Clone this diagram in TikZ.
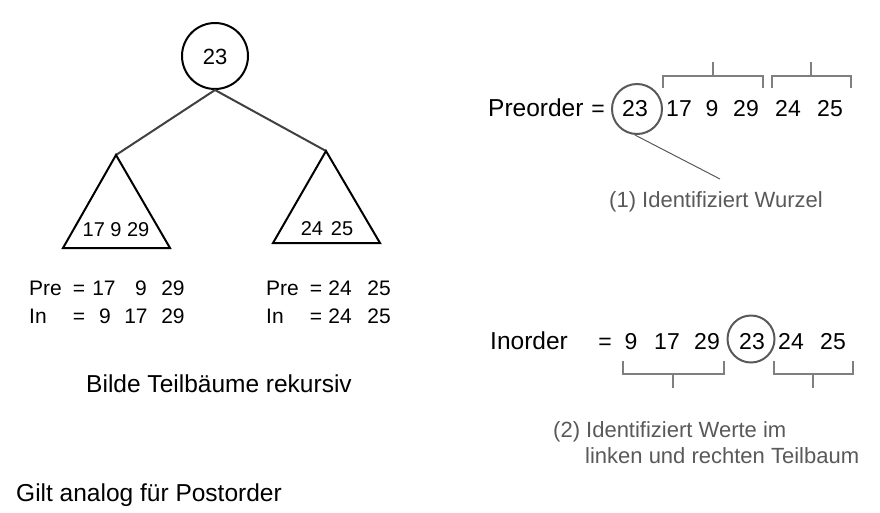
\documentclass[tikz,border=0pt]{standalone}
\usepackage{fontspec}
\setmainfont{Liberation Sans}
\usetikzlibrary{positioning}

\definecolor{darkline}{HTML}{404040}
\definecolor{notegray}{HTML}{595959}
\definecolor{bracegray}{HTML}{7F7F7F}

\tikzset{
  big/.style={font=\fontsize{23}{27}\selectfont, inner sep=0pt, anchor=base},
  label/.style={font=\fontsize{24.5}{29}\selectfont, inner sep=0pt, anchor=base west},
  mid/.style={font=\fontsize{21}{25}\selectfont, inner sep=0pt, anchor=base},
  small/.style={font=\fontsize{20}{24}\selectfont, inner sep=0pt, anchor=base},
  note/.style={font=\fontsize{22}{26}\selectfont, inner sep=0pt, anchor=base west, text=notegray},
  rootnode/.style={circle, draw=black, line width=2pt, minimum size=66pt, inner sep=0pt},
  ring/.style={circle, draw=notegray, line width=2pt, inner sep=0pt},
  subtree/.style={draw=black, line width=2pt, line join=miter},
  brace/.style={draw=bracegray, line width=1.5pt}
}

\begin{document}
\begin{tikzpicture}[x=1pt,y=-1pt]
\useasboundingbox (0,0) rectangle (880,512);

% tree on the left
\node[rootnode] (root) at (215,56) {};
\node[mid, font=\fontsize{22}{26}\selectfont] (roottxt) at (215,64) {23};
\coordinate (lt) at (116,155);
\coordinate (rt) at (326,151);
\draw[darkline, line width=2pt] (lt) -- (root.south) -- (rt);
\draw[subtree] (lt) -- (63,248) -- (170,248) -- cycle;
\draw[subtree] (rt) -- (273,243) -- (380,243) -- cycle;
\node[small] (ltxt) at (116,236) {17 9 29};
\node[small] (rtxt) at (327,235) {24\hspace{8pt}25};

% sequences of the subtrees
\node[mid, anchor=base west] (lpre) at (29,295) {Pre};
\node[mid, anchor=base west] (lin) at (29,323) {In};
\foreach \v/\x in {=/79, 17/104, 9/141, 29/173}
  \node[mid] at (\x,295) {\v};
\foreach \v/\x in {=/79, 9/105, 17/136, 29/173}
  \node[mid] at (\x,323) {\v};
\node[mid, anchor=base west] (rpre) at (266,295) {Pre};
\node[mid, anchor=base west] (rin) at (266,323) {In};
\foreach \v/\x in {=/316, 24/340, 25/379}{
  \node[mid] at (\x,295) {\v};
  \node[mid] at (\x,323) {\v};
}
\node[label, anchor=base] (rek) at (219,392) {Bilde Teilb\"aume rekursiv};
\node[label] (post) at (16,501) {Gilt analog f\"ur Postorder};

% preorder
\node[label] (pre) at (488,116) {Preorder};
\node[big] at (598,116) {=};
\node[big] (pre23) at (635,116) {23};
\node[ring, minimum size=50pt] (prering) at (637,109) {};
\foreach \v/\x in {17/679, 9/712, 29/746, 24/788, 25/830}
  \node[big] at (\x,116) {\v};
\draw[brace] (663,88) -- (663,76) -- (763,76) -- (763,88) (713,76) -- (713,62);
\draw[brace] (772,88) -- (772,76) -- (851,76) -- (851,88) (811,76) -- (811,62);
\node[note] (wurzel) at (609,207) {(1) Identifiziert Wurzel};
\coordinate (wtip) at (720,179);
\draw[notegray, line width=1pt] (prering.-95) -- (wtip);

% inorder
\node[label] (in) at (490,349) {Inorder};
\node[big] at (605,349) {=};
\foreach \v/\x in {9/631, 17/667, 29/707, 24/791, 25/833}
  \node[big] at (\x,349) {\v};
\node[big] (in23) at (752,349) {23};
\node[ring, minimum size=47pt] (inring) at (751,339) {};
\draw[brace] (623,361) -- (623,374) -- (724,374) -- (724,361) (673,374) -- (673,388);
\draw[brace] (774,361) -- (774,374) -- (853,374) -- (853,361) (813,374) -- (813,388);
\node[note] (werte) at (553,437) {(2) Identifiziert Werte im};
\node[note] (teil) at (585,463) {linken und rechten Teilbaum};
\end{tikzpicture}
\end{document}
